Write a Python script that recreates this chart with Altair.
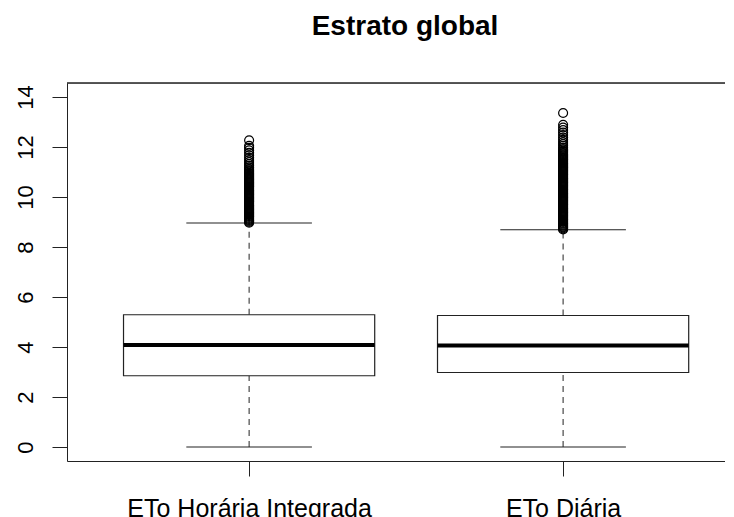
import altair as alt
import pandas as pd

# ---- data ----
title_text = ["Estrato global"]
groups = ["ETo Horária Integrada", "ETo Diária"]
positions = [1, 2]
whisker_low = [0.0, 0.0]
q1 = [2.85, 2.98]
median = [4.08, 4.06]
q3 = [5.29, 5.26]
whisker_high = [8.96, 8.69]

outliers_horaria = [
    8.97, 9.01, 9.05, 9.08, 9.12, 9.16, 9.20, 9.23, 9.27, 9.31, 9.35, 9.38,
    9.42, 9.46, 9.50, 9.53, 9.57, 9.61, 9.65, 9.68, 9.72, 9.76, 9.80, 9.83,
    9.87, 9.91, 9.95, 9.98, 10.02, 10.06, 10.10, 10.13, 10.17, 10.21, 10.25,
    10.28, 10.32, 10.36, 10.40, 10.43, 10.47, 10.51, 10.55, 10.58, 10.62,
    10.66, 10.70, 10.73, 10.77, 10.81, 10.85, 10.89, 10.93, 10.97, 11.02,
    11.07, 11.12, 11.18, 11.25, 11.32, 11.40, 11.48, 11.57, 11.67, 11.77,
    11.87, 11.97, 12.05, 12.27,
]
outliers_diaria = [
    8.70, 8.74, 8.78, 8.81, 8.85, 8.89, 8.93, 8.96, 9.00, 9.04, 9.08, 9.11,
    9.15, 9.19, 9.23, 9.26, 9.30, 9.34, 9.38, 9.41, 9.45, 9.49, 9.53, 9.56,
    9.60, 9.64, 9.68, 9.71, 9.75, 9.79, 9.83, 9.86, 9.90, 9.94, 9.98, 10.01,
    10.05, 10.09, 10.13, 10.16, 10.20, 10.24, 10.28, 10.31, 10.35, 10.39,
    10.43, 10.46, 10.50, 10.54, 10.58, 10.61, 10.65, 10.69, 10.73, 10.76,
    10.80, 10.84, 10.88, 10.91, 10.95, 10.99, 11.03, 11.06, 11.10, 11.14,
    11.18, 11.21, 11.25, 11.29, 11.33, 11.36, 11.40, 11.44, 11.48, 11.51,
    11.55, 11.59, 11.63, 11.67, 11.71, 11.76, 11.81, 11.86, 11.91, 11.97,
    12.05, 12.12, 12.20, 12.29, 12.38, 12.48, 12.58, 12.68, 12.78, 12.89,
    13.36,
]
y_ticks = [0, 2, 4, 6, 8, 10, 12, 14]

# ---- tables ----
BOXWEX = 0.8
boxes = pd.DataFrame({
    "grupo": groups, "pos": positions, "lo": whisker_low, "q1": q1,
    "med": median, "q3": q3, "hi": whisker_high,
})
boxes["xl"] = boxes["pos"] - BOXWEX / 2
boxes["xr"] = boxes["pos"] + BOXWEX / 2
boxes["cl"] = boxes["pos"] - BOXWEX / 4
boxes["cr"] = boxes["pos"] + BOXWEX / 4

out = pd.DataFrame({
    "pos": [positions[0]] * len(outliers_horaria) + [positions[1]] * len(outliers_diaria),
    "v": outliers_horaria + outliers_diaria,
})

W, H = 658, 378
FONT = "Liberation Sans"
LINE = "#222"
xs = alt.Scale(domain=[0.42, 2.5156], nice=False, zero=False)
ys = alt.Scale(domain=[-0.56, 14.56], nice=False, zero=False)

label_expr = "datum.value == 1 ? '%s' : '%s'" % (groups[0], groups[1])

x_axis = alt.Axis(values=positions, labelExpr=label_expr, title=None,
                  tickSize=15, labelFontSize=25, labelPadding=20,
                  labelLimit=0, labelFont=FONT, labelColor="black",
                  grid=False, domainColor=LINE, tickColor=LINE,
                  labelOverlap=False)
y_axis = alt.Axis(values=y_ticks, title=None, tickSize=15, labelAngle=270,
                  labelAlign="center", labelBaseline="bottom", labelPadding=15,
                  labelFontSize=22, labelFont=FONT, labelColor="black",
                  grid=False, domainColor=LINE, tickColor=LINE,
                  labelOverlap=False)


def X(field):
    return alt.X(field, type="quantitative", scale=xs, axis=x_axis)


def Y(field):
    return alt.Y(field, type="quantitative", scale=ys, axis=y_axis)


base = alt.Chart(boxes)

whisk_up = base.mark_rule(color=LINE, strokeWidth=1, strokeDash=[6, 5]).encode(
    x=X("pos"), y=Y("q3"), y2="hi:Q",
)
whisk_lo = base.mark_rule(color=LINE, strokeWidth=1, strokeDash=[6, 5]).encode(
    x=X("pos"), y=Y("lo"), y2="q1:Q",
)
cap_hi = base.mark_rule(color=LINE, strokeWidth=1.2).encode(
    x=X("cl"), x2="cr:Q", y=Y("hi"),
)
cap_lo = base.mark_rule(color=LINE, strokeWidth=1.2).encode(
    x=X("cl"), x2="cr:Q", y=Y("lo"),
)
box = base.mark_rect(fill="white", stroke=LINE, strokeWidth=1.2).encode(
    x=X("xl"), x2="xr:Q", y=Y("q1"), y2="q3:Q",
)
med = base.mark_rule(color="black", strokeWidth=4).encode(
    x=X("xl"), x2="xr:Q", y=Y("med"),
)
pts = alt.Chart(out).mark_point(shape="circle", filled=False, color="black",
                                 strokeWidth=1.2, size=80, opacity=1).encode(
    x=X("pos"), y=Y("v"),
)
top_frame = base.mark_rule(color=LINE, strokeWidth=1.2).encode(
    x=alt.value(0), x2=alt.value(W), y=alt.value(0),
)
title = alt.Chart(pd.DataFrame({"t": title_text})).mark_text(
    font=FONT, fontSize=28, fontWeight="bold", color="black",
    align="center", baseline="alphabetic",
).encode(text="t:N", x=alt.value(W / 2 + 9), y=alt.value(-48))

chart = alt.layer(
    whisk_up, whisk_lo, cap_hi, cap_lo, box, med, pts, top_frame, title
).properties(
    width=W, height=H,
    autosize=alt.AutoSizeParams(type="none"),
    padding={"left": 59, "top": 75, "right": 0, "bottom": 56},
).configure_view(stroke=None).configure(background="white")

chart.save("out.html", embed_options={"renderer": "svg", "actions": False})
